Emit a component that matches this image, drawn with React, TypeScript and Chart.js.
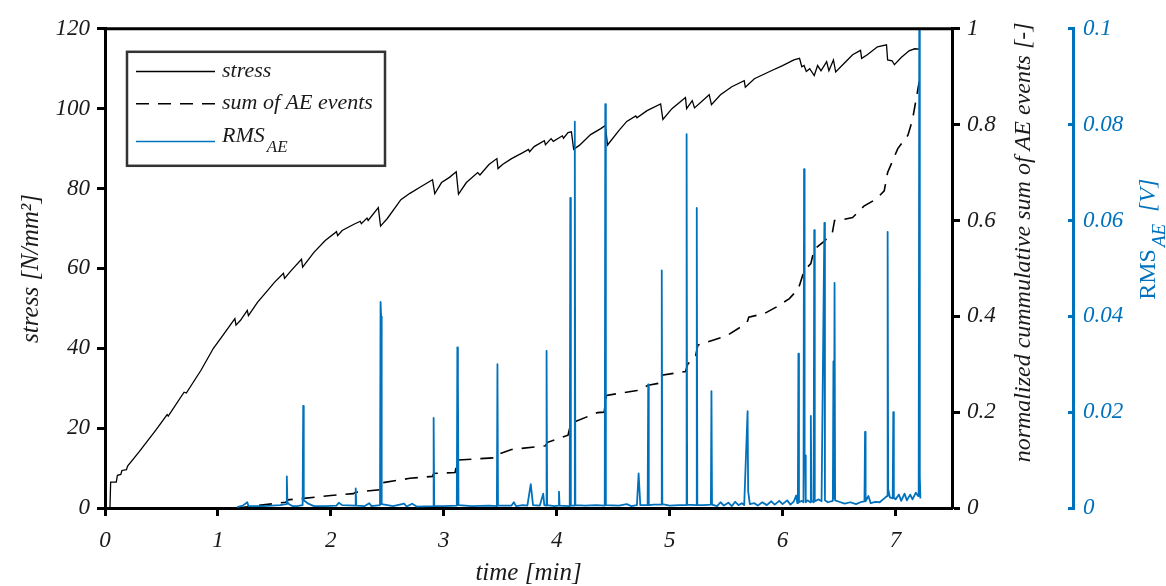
import { useEffect, useRef } from "react";
import { Chart, registerables } from "chart.js";

Chart.register(...registerables);

const FONT = "'Liberation Serif', 'Times New Roman', serif";
const BLUE = "#0072BD";
const INK = "#1a1a1a";

// stress [N/mm²] vs time [min]
const stressTime = [0, 0.044, 0.05, 0.1, 0.11, 0.14, 0.15, 0.19, 0.2, 0.3, 0.45, 0.55, 0.56, 0.7, 0.72, 0.85, 0.96, 1.05, 1.15, 1.16, 1.2, 1.26, 1.27, 1.35, 1.45, 1.5, 1.58, 1.59, 1.65, 1.74, 1.75, 1.85, 1.95, 2.05, 2.06, 2.1, 2.2, 2.26, 2.27, 2.32, 2.33, 2.42, 2.44, 2.5, 2.62, 2.7, 2.8, 2.9, 2.92, 2.98, 3.05, 3.11, 3.13, 3.2, 3.3, 3.32, 3.4, 3.47, 3.48, 3.52, 3.6, 3.7, 3.75, 3.76, 3.8, 3.89, 3.9, 3.95, 3.97, 4.05, 4.06, 4.1, 4.13, 4.15, 4.2, 4.3, 4.39, 4.43, 4.45, 4.55, 4.62, 4.7, 4.71, 4.8, 4.92, 4.94, 5.02, 5.14, 5.15, 5.2, 5.22, 5.35, 5.37, 5.45, 5.55, 5.66, 5.67, 5.75, 5.9, 6.0, 6.1, 6.15, 6.17, 6.19, 6.21, 6.24, 6.28, 6.31, 6.34, 6.39, 6.41, 6.45, 6.47, 6.55, 6.62, 6.69, 6.7, 6.75, 6.84, 6.92, 6.93, 6.97, 6.99, 7.05, 7.12, 7.17, 7.21];
const stressValue = [0, 0, 6.5, 6.5, 8.2, 8.4, 9.4, 9.6, 10.5, 14, 19.5, 23.4, 23.0, 29, 28.8, 34.5, 40, 43.5, 47.4, 45.8, 47, 49.5, 48.2, 51.5, 54.8, 56.5, 58.8, 57.5, 59.5, 62.3, 60.3, 64, 67, 69.2, 68.2, 69.5, 71, 71.8, 71.2, 72.6, 72.0, 75.2, 70.6, 72.5, 77.2, 78.8, 80.5, 82.2, 78.7, 81.5, 82.8, 84.2, 78.6, 81.5, 84, 83.4, 86, 87.5, 85, 86, 87.5, 89, 89.8, 89.2, 90.5, 92, 91, 92.5, 91.8, 93.2, 92.6, 94, 94.2, 89.8, 90.8, 93.5, 95, 95.8, 90.9, 94.5, 96.8, 98.2, 97.7, 99.5, 101.2, 97.3, 100, 102.8, 100, 102, 100.2, 103.5, 101, 103.5, 105.5, 107, 105.4, 107.5, 109.5, 110.8, 112.2, 112.6, 110.5, 110.8, 109.3, 110, 108.3, 110.8, 109.5, 111.8, 109.5, 112.2, 109.2, 111.5, 113.5, 114.6, 112.6, 113.5, 115.5, 116, 112.2, 112, 111, 112.8, 114.5, 115, 114.9];

// normalized cumulative sum of AE events [-]
const sumTime = [1.17, 1.6, 1.62, 1.76, 2.0, 2.2, 2.22, 2.43, 2.44, 2.7, 2.9, 2.91, 3.1, 3.12, 3.46, 3.48, 3.6, 3.9, 3.92, 4.1, 4.12, 4.16, 4.36, 4.42, 4.44, 4.71, 4.81, 4.92, 4.93, 5.14, 5.16, 5.23, 5.25, 5.51, 5.63, 5.69, 5.7, 5.84, 5.95, 6.06, 6.13, 6.15, 6.19, 6.25, 6.28, 6.37, 6.44, 6.46, 6.5, 6.62, 6.72, 6.83, 6.9, 6.93, 7.02, 7.11, 7.15, 7.18, 7.21];
const sumValue = [0, 0.012, 0.017, 0.02, 0.026, 0.03, 0.033, 0.038, 0.052, 0.062, 0.066, 0.072, 0.074, 0.1, 0.105, 0.112, 0.122, 0.13, 0.137, 0.152, 0.172, 0.18, 0.199, 0.2, 0.235, 0.245, 0.256, 0.261, 0.277, 0.285, 0.3, 0.318, 0.34, 0.36, 0.378, 0.39, 0.398, 0.406, 0.42, 0.437, 0.455, 0.465, 0.495, 0.51, 0.54, 0.557, 0.574, 0.6, 0.6, 0.606, 0.63, 0.645, 0.662, 0.7, 0.75, 0.778, 0.81, 0.85, 0.89];

// RMS_AE [V]
const rmsTime = [1.17, 1.22, 1.26, 1.27, 1.4, 1.55, 1.605, 1.61, 1.615, 1.63, 1.66, 1.7, 1.75, 1.755, 1.76, 1.8, 1.85, 1.95, 2.05, 2.07, 2.1, 2.215, 2.22, 2.225, 2.3, 2.34, 2.36, 2.435, 2.44, 2.445, 2.45, 2.55, 2.65, 2.67, 2.72, 2.76, 2.905, 2.91, 2.915, 3.0, 3.115, 3.12, 3.125, 3.13, 3.25, 3.4, 3.47, 3.475, 3.48, 3.6, 3.62, 3.64, 3.7, 3.74, 3.77, 3.79, 3.85, 3.88, 3.89, 3.905, 3.91, 3.915, 3.98, 4.015, 4.02, 4.025, 4.115, 4.12, 4.125, 4.155, 4.16, 4.165, 4.25, 4.35, 4.425, 4.43, 4.435, 4.55, 4.62, 4.66, 4.71, 4.725, 4.74, 4.805, 4.81, 4.815, 4.86, 4.925, 4.93, 4.935, 5.0, 5.08, 5.145, 5.15, 5.155, 5.235, 5.24, 5.245, 5.3, 5.365, 5.37, 5.375, 5.42, 5.45, 5.48, 5.52, 5.55, 5.58, 5.61, 5.64, 5.66, 5.69, 5.695, 5.71, 5.75, 5.78, 5.82, 5.86, 5.9, 5.93, 5.97, 6.0, 6.04, 6.07, 6.1, 6.12, 6.13, 6.135, 6.14, 6.145, 6.17, 6.185, 6.19, 6.195, 6.2, 6.205, 6.22, 6.245, 6.25, 6.255, 6.275, 6.28, 6.285, 6.32, 6.345, 6.37, 6.375, 6.4, 6.445, 6.45, 6.455, 6.46, 6.465, 6.5, 6.55, 6.6, 6.65, 6.7, 6.725, 6.73, 6.735, 6.76, 6.78, 6.82, 6.86, 6.9, 6.925, 6.93, 6.935, 6.95, 6.975, 6.98, 6.985, 7.0, 7.03, 7.05, 7.08, 7.1, 7.13, 7.15, 7.18, 7.2, 7.205, 7.21, 7.215, 7.22];
const rmsValue = [0.0002, 0.0005, 0.0012, 0.0004, 0.0004, 0.0006, 0.0008, 0.0066, 0.0012, 0.0008, 0.0004, 0.0004, 0.0006, 0.0213, 0.0016, 0.0009, 0.0004, 0.0004, 0.0005, 0.0011, 0.0006, 0.0005, 0.0041, 0.0005, 0.0004, 0.001, 0.0004, 0.0006, 0.043, 0.04, 0.0008, 0.0004, 0.0009, 0.0003, 0.0009, 0.0003, 0.0004, 0.0188, 0.0004, 0.0004, 0.0005, 0.0335, 0.027, 0.0006, 0.0004, 0.0005, 0.0004, 0.03, 0.0005, 0.0005, 0.0012, 0.0004, 0.0006, 0.0005, 0.005, 0.0006, 0.0005, 0.003, 0.0006, 0.0005, 0.0328, 0.0006, 0.0004, 0.0005, 0.0034, 0.0005, 0.0004, 0.0647, 0.0005, 0.0005, 0.0806, 0.0006, 0.0005, 0.0006, 0.0005, 0.0843, 0.0006, 0.0005, 0.0008, 0.0004, 0.0006, 0.0072, 0.0006, 0.0006, 0.0258, 0.0006, 0.0007, 0.0007, 0.0496, 0.0008, 0.0005, 0.0006, 0.0006, 0.078, 0.0007, 0.0006, 0.0626, 0.0006, 0.0006, 0.0007, 0.0244, 0.0007, 0.0004, 0.0012, 0.0005, 0.0011, 0.0004, 0.0013, 0.0006, 0.001, 0.0006, 0.0202, 0.0035, 0.0008, 0.001, 0.0005, 0.0012, 0.0006, 0.0014, 0.0007, 0.0015, 0.0008, 0.0016, 0.0007, 0.0014, 0.0026, 0.001, 0.0012, 0.0322, 0.0012, 0.0015, 0.0012, 0.0707, 0.009, 0.011, 0.0012, 0.0016, 0.0012, 0.0192, 0.0015, 0.0012, 0.058, 0.0014, 0.0018, 0.0014, 0.0595, 0.0016, 0.0012, 0.0015, 0.0306, 0.002, 0.047, 0.0016, 0.0013, 0.0009, 0.0012, 0.0008, 0.0013, 0.0014, 0.0159, 0.0014, 0.0025, 0.001, 0.0013, 0.0012, 0.002, 0.0025, 0.0576, 0.004, 0.0022, 0.002, 0.02, 0.0022, 0.0018, 0.0028, 0.0015, 0.003, 0.0016, 0.0028, 0.0018, 0.0032, 0.0025, 0.003, 0.1, 0.0065, 0.002];

const timeTicks = [0, 1, 2, 3, 4, 5, 6, 7];
const stressTicks = [0, 20, 40, 60, 80, 100, 120];
const sumTicks = [0, 0.2, 0.4, 0.6, 0.8, 1];
const rmsTicks = [0, 0.02, 0.04, 0.06, 0.08, 0.1];

const legendNames = ["stress", "sum of AE events", "RMS"];
const legendSub = "AE";
const xTitle = "time [min]";
const yTitle = "stress [N/mm²]";
const y1Title = "normalized cummulative sum of AE events [-]";
const y2Title = ["RMS", "AE", "[V]"];

const toPoints = (xs: number[], ys: number[]) => xs.map((x, i) => ({ x, y: ys[i] }));

const tickFont = { family: FONT, size: 23, style: "italic" as const };

const overlayPlugin = {
  id: "overlay",
  afterDraw(chart: any) {
    const { ctx, chartArea: a } = chart;
    ctx.save();
    // top frame line
    ctx.strokeStyle = "#000";
    ctx.lineWidth = 3;
    ctx.beginPath();
    ctx.moveTo(a.left - 1.5, a.top);
    ctx.lineTo(a.right + 1.5, a.top);
    ctx.stroke();

    // legend
    const bx = a.left + 22, by = a.top + 23, bw = 258, bh = 114;
    ctx.fillStyle = "#fff";
    ctx.fillRect(bx, by, bw, bh);
    ctx.strokeStyle = "#333";
    ctx.lineWidth = 2.5;
    ctx.strokeRect(bx, by, bw, bh);
    const rows = [19.7, 52, 89.7];
    const styles = [
      { color: "#000", dash: [] as number[], w: 1.3 },
      { color: "#000", dash: [13, 9], w: 1.6 },
      { color: BLUE, dash: [] as number[], w: 1.6 },
    ];
    const lx0 = bx + 9, lx1 = bx + 88, tx = bx + 95;
    rows.forEach((ry, i) => {
      const y = by + ry;
      ctx.strokeStyle = styles[i].color;
      ctx.lineWidth = styles[i].w;
      ctx.setLineDash(styles[i].dash);
      ctx.beginPath();
      ctx.moveTo(lx0, y);
      ctx.lineTo(lx1, y);
      ctx.stroke();
      ctx.setLineDash([]);
      ctx.fillStyle = INK;
      ctx.textAlign = "left";
      ctx.textBaseline = "alphabetic";
      ctx.font = `italic 22px ${FONT}`;
      if (i < 2) {
        ctx.fillText(legendNames[i], tx, y + 5);
      } else {
        ctx.fillText(legendNames[i], tx, y);
        const w = ctx.measureText(legendNames[i]).width;
        ctx.font = `italic 17px ${FONT}`;
        ctx.fillText(legendSub, tx + w + 2, y + 10);
      }
    });

    // right axis titles
    const s1 = chart.scales.y1;
    ctx.save();
    ctx.translate(s1.left + 78, (a.top + a.bottom) / 2 - 26);
    ctx.rotate(-Math.PI / 2);
    ctx.font = `italic 24px ${FONT}`;
    ctx.fillStyle = INK;
    ctx.textAlign = "center";
    ctx.textBaseline = "alphabetic";
    ctx.fillText(y1Title, 0, 0);
    ctx.restore();

    const s2 = chart.scales.y2;
    ctx.save();
    ctx.translate(s2.left + 82, a.top + 271);
    ctx.rotate(-Math.PI / 2);
    ctx.fillStyle = BLUE;
    ctx.textAlign = "left";
    ctx.textBaseline = "alphabetic";
    ctx.font = `24px ${FONT}`;
    ctx.fillText(y2Title[0], 0, 0);
    let w = ctx.measureText(y2Title[0]).width + 2;
    ctx.font = `italic 19px ${FONT}`;
    ctx.fillText(y2Title[1], w, 10);
    w += ctx.measureText(y2Title[1]).width + 12;
    ctx.font = `italic 24px ${FONT}`;
    ctx.fillText(y2Title[2], w, 0);
    ctx.restore();

    ctx.restore();
  },
};

export default function App() {
  const ref = useRef<HTMLCanvasElement | null>(null);

  useEffect(() => {
    document.body.style.margin = "0";
    if (!ref.current) return;
    const chart = new Chart(ref.current, {
      type: "line",
      data: {
        datasets: [
          {
            label: "RMS",
            data: toPoints(rmsTime, rmsValue),
            yAxisID: "y2",
            borderColor: BLUE,
            borderWidth: 1.8,
            borderJoinStyle: "round",
            pointRadius: 0,
            tension: 0,
            order: 0,
          },
          {
            label: "stress",
            data: toPoints(stressTime, stressValue),
            yAxisID: "y",
            borderColor: "#000",
            borderWidth: 1.3,
            pointRadius: 0,
            tension: 0,
            order: 1,
          },
          {
            label: "sum of AE events",
            data: toPoints(sumTime, sumValue),
            yAxisID: "y1",
            borderColor: "#000",
            borderWidth: 1.6,
            borderDash: [13, 9],
            pointRadius: 0,
            tension: 0,
            order: 2,
          },
        ],
      },
      options: {
        animation: false,
        responsive: true,
        maintainAspectRatio: false,
        layout: { padding: { top: 24, left: 0, right: 0, bottom: 0 } },
        plugins: { legend: { display: false }, tooltip: { enabled: false } },
        scales: {
          x: {
            type: "linear",
            min: 0,
            max: 7.5,
            afterBuildTicks: (s: any) => { s.ticks = timeTicks.map((v) => ({ value: v })); },
            afterFit: (s: any) => { s.height = 78; },
            ticks: { font: tickFont, color: INK, padding: 11, callback: (v: any) => String(v) },
            grid: { drawOnChartArea: false, tickLength: 8, tickWidth: 3, tickColor: "#000" },
            border: { width: 3, color: "#000" },
            title: {
              display: true,
              text: xTitle,
              color: INK,
              font: { family: FONT, size: 25, style: "italic", lineHeight: 1 },
              padding: { top: 0, bottom: 0 },
            },
          },
          y: {
            type: "linear",
            position: "left",
            min: 0,
            max: 120,
            afterBuildTicks: (s: any) => { s.ticks = stressTicks.map((v) => ({ value: v })); },
            afterFit: (s: any) => { s.width = 105; },
            ticks: { font: tickFont, color: INK, padding: 7, callback: (v: any) => String(v) },
            grid: { drawOnChartArea: false, tickLength: 8, tickWidth: 3, tickColor: "#000" },
            border: { width: 3, color: "#000" },
            title: {
              display: true,
              text: yTitle,
              color: INK,
              font: { family: FONT, size: 25, style: "italic", lineHeight: 1 },
              padding: { top: 19, bottom: 0 },
            },
          },
          y1: {
            type: "linear",
            position: "right",
            min: 0,
            max: 1,
            afterBuildTicks: (s: any) => { s.ticks = sumTicks.map((v) => ({ value: v })); },
            afterFit: (s: any) => { s.width = 121; },
            ticks: { font: tickFont, color: INK, padding: 7, callback: (v: any) => String(v) },
            grid: { drawOnChartArea: false, tickLength: 8, tickWidth: 3, tickColor: "#000" },
            border: { width: 3, color: "#000" },
          },
          y2: {
            type: "linear",
            position: "right",
            min: 0,
            max: 0.1,
            afterBuildTicks: (s: any) => { s.ticks = rmsTicks.map((v) => ({ value: v })); },
            afterFit: (s: any) => { s.width = 93; },
            ticks: { font: tickFont, color: BLUE, padding: 15, callback: (v: any) => String(v) },
            grid: { drawOnChartArea: false, tickLength: -5, tickWidth: 3, tickColor: BLUE },
            border: { width: 3, color: BLUE },
          },
        },
      },
      plugins: [overlayPlugin],
    } as any);
    return () => chart.destroy();
  }, []);

  return (
    <div style={{ position: "fixed", left: 0, top: 0, width: 1166, height: 586, background: "#fff" }}>
      <canvas ref={ref} />
    </div>
  );
}
